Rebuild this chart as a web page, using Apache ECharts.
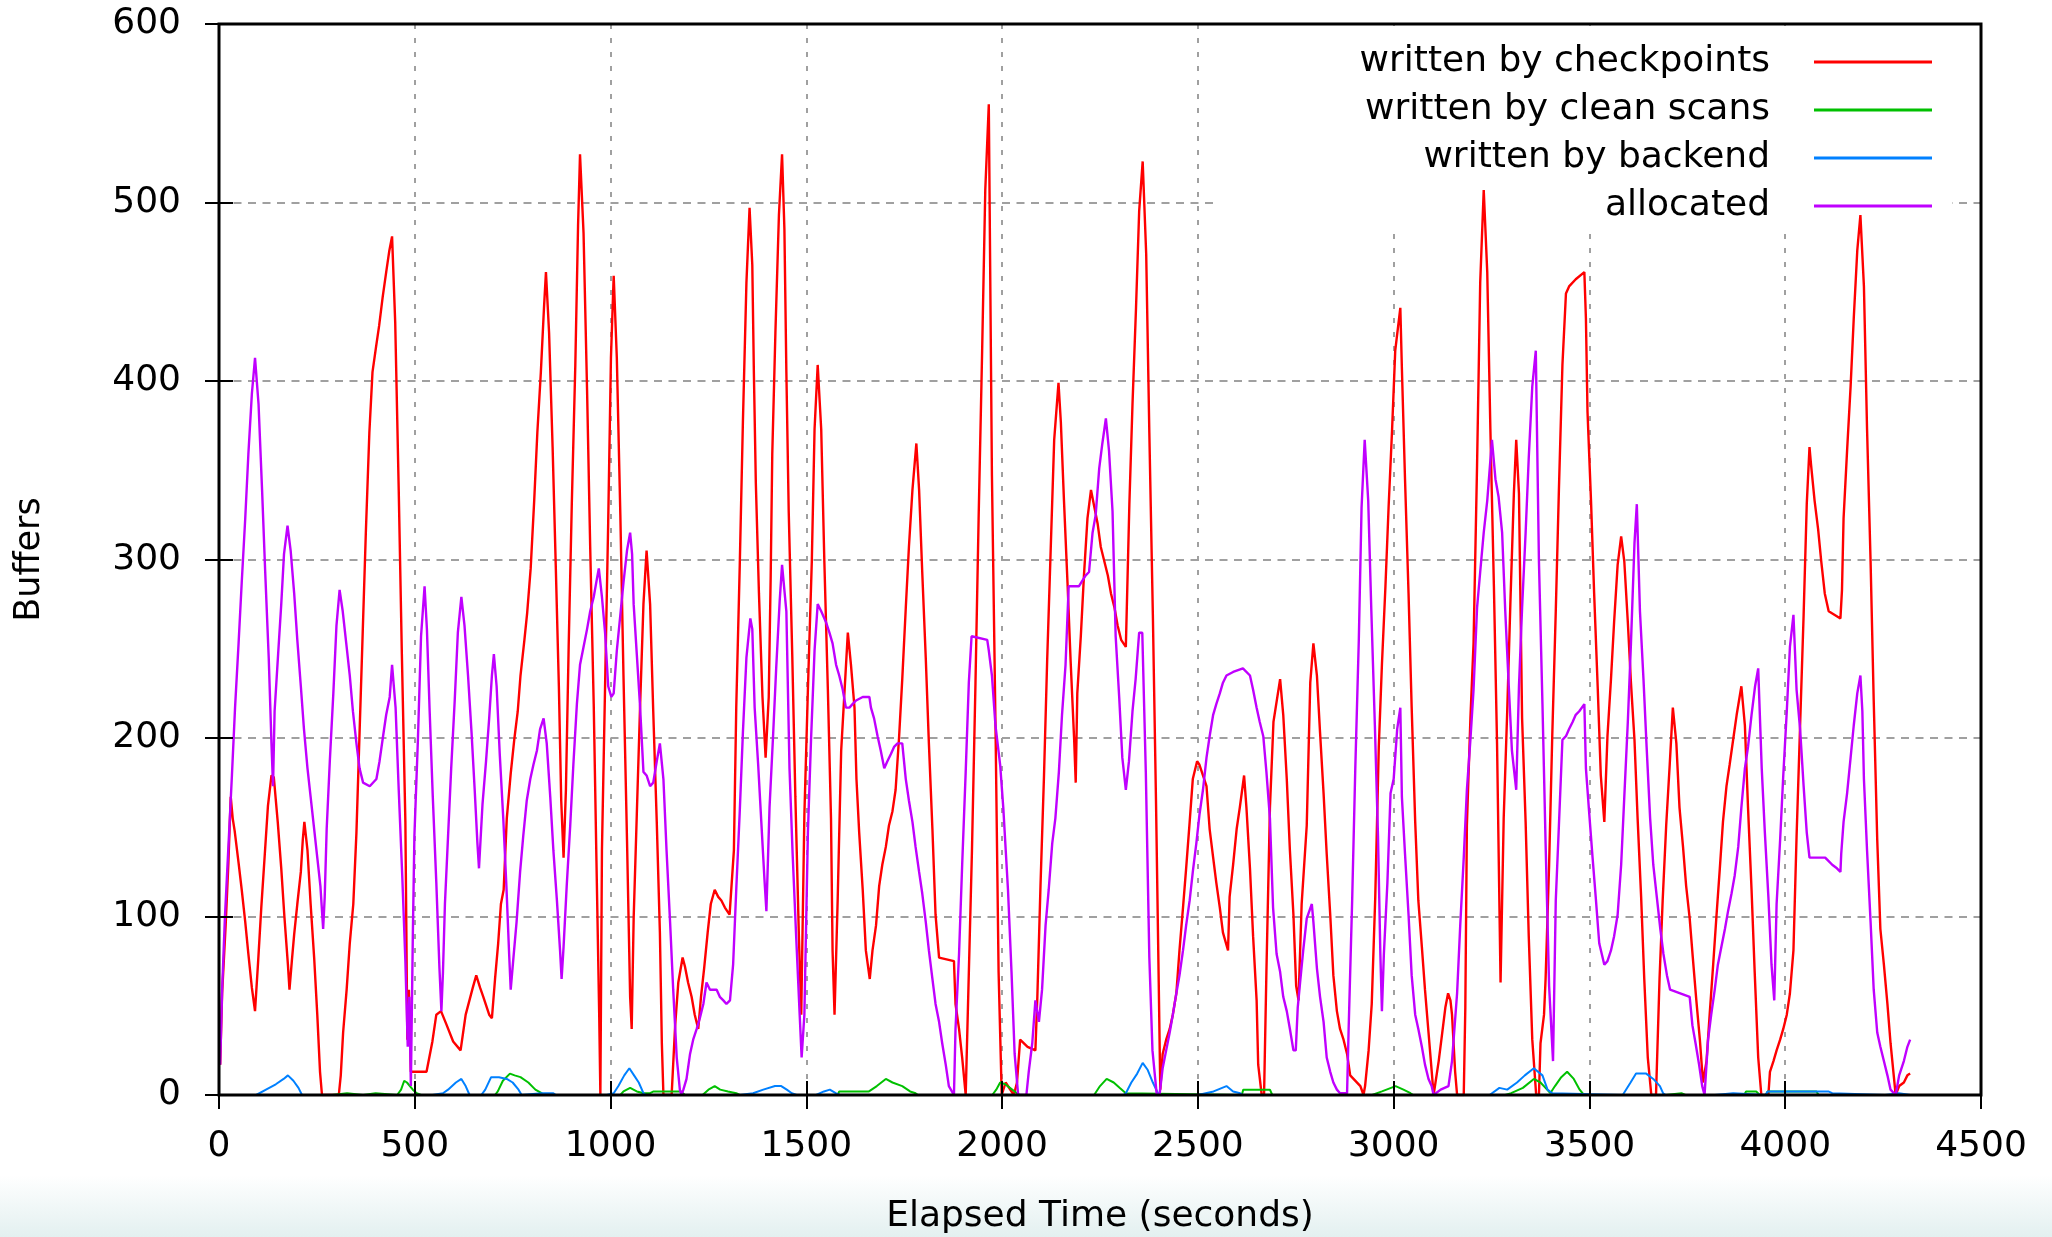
<!DOCTYPE html>
<html>
<head>
<meta charset="utf-8">
<script src="https://cdn.jsdelivr.net/npm/echarts@6/dist/echarts.min.js"></script>
<style>html,body{margin:0;padding:0;background:#fff}#c{width:2052px;height:1237px}</style>
</head>
<body>
<div id="c"></div>
<script>
// ---- data: [elapsed seconds, buffers] ----
const seriesNames = ['written by checkpoints', 'written by clean scans', 'written by backend', 'allocated'];
const xTicks = [0, 500, 1000, 1500, 2000, 2500, 3000, 3500, 4000, 4500];
const yTicks = [0, 100, 200, 300, 400, 500, 600];

const checkpointPts = [[3,17],[8,57],[17,95],[24,130],[30,167],[35,155],[40,148],[50,130],[58,115],[67,97],[75,79],[84,60],[92,47],[100,75],[108,105],[117,135],[125,162],[134,179],[140,178],[150,153],[159,127],[167,100],[176,73],[180,59],[186,75],[192,90],[200,107],[209,125],[214,143],[218,153],[226,137],[234,107],[243,77],[251,45],[258,13],[263,0],[306,0],[311,11],[317,35],[326,59],[334,85],[343,107],[351,147],[359,203],[367,259],[375,315],[384,371],[392,405],[401,419],[409,431],[418,447],[427,461],[435,473],[442,481],[450,433],[459,339],[467,247],[476,153],[481,31],[485,59],[490,13],[530,13],[545,30],[555,45],[567,47],[580,40],[598,30],[617,25],[630,45],[648,60],[657,67],[667,60],[675,55],[690,45],[697,43],[705,65],[713,85],[720,107],[727,115],[735,155],[745,180],[754,199],[763,215],[770,235],[780,255],[787,270],[796,295],[805,333],[813,371],[822,405],[830,441],[835,461],[843,427],[852,363],[860,297],[868,229],[874,165],[880,133],[886,171],[893,251],[901,331],[910,409],[917,487],[922,527],[931,483],[940,395],[948,307],[957,219],[964,131],[971,45],[974,0],[978,137],[986,229],[994,321],[1001,413],[1008,459],[1016,413],[1025,325],[1033,235],[1042,143],[1050,55],[1054,37],[1059,99],[1067,157],[1075,215],[1084,275],[1092,305],[1101,275],[1109,215],[1118,153],[1126,91],[1131,29],[1135,0],[1156,0],[1159,13],[1165,39],[1173,63],[1184,77],[1190,72],[1198,63],[1207,55],[1215,45],[1224,37],[1231,55],[1239,71],[1248,91],[1256,107],[1266,115],[1275,111],[1283,109],[1292,105],[1304,101],[1315,137],[1321,217],[1330,297],[1338,377],[1347,455],[1355,497],[1362,465],[1366,405],[1371,343],[1379,281],[1388,223],[1396,189],[1404,223],[1409,291],[1413,359],[1421,427],[1430,493],[1438,527],[1444,485],[1449,405],[1455,327],[1464,247],[1472,167],[1481,89],[1487,45],[1495,157],[1504,227],[1514,299],[1521,373],[1529,409],[1538,373],[1546,299],[1555,227],[1563,155],[1567,81],[1572,45],[1580,109],[1589,193],[1606,259],[1614,241],[1623,217],[1628,177],[1635,147],[1644,115],[1652,81],[1662,65],[1669,81],[1678,95],[1686,117],[1694,129],[1703,139],[1711,151],[1720,159],[1728,171],[1737,201],[1745,233],[1754,273],[1762,307],[1771,339],[1781,365],[1788,339],[1796,293],[1805,245],[1813,197],[1822,149],[1830,101],[1839,77],[1877,75],[1881,51],[1890,37],[1898,21],[1907,0],[1912,0],[1923,137],[1932,231],[1940,323],[1949,417],[1957,507],[1966,555],[1974,347],[1983,209],[1991,69],[1999,0],[2009,7],[2030,0],[2038,7],[2046,31],[2065,27],[2085,25],[2090,55],[2098,117],[2107,179],[2115,243],[2124,305],[2133,367],[2144,399],[2150,377],[2158,333],[2167,287],[2175,243],[2184,199],[2188,175],[2192,225],[2201,257],[2209,291],[2218,323],[2227,339],[2235,330],[2244,320],[2252,307],[2261,299],[2270,291],[2278,281],[2287,273],[2295,263],[2304,255],[2316,251],[2325,331],[2333,387],[2342,441],[2350,495],[2359,523],[2368,471],[2376,371],[2385,269],[2393,165],[2400,63],[2404,3],[2410,23],[2419,31],[2428,37],[2436,45],[2445,57],[2453,81],[2462,105],[2470,127],[2479,153],[2487,177],[2498,187],[2504,185],[2513,179],[2522,173],[2530,149],[2539,133],[2547,119],[2556,105],[2564,91],[2577,81],[2581,111],[2590,129],[2599,149],[2607,161],[2618,179],[2624,161],[2633,127],[2641,89],[2650,53],[2654,17],[2663,0],[2669,0],[2675,69],[2684,161],[2693,209],[2710,233],[2718,213],[2727,177],[2735,137],[2744,101],[2751,61],[2757,53],[2765,107],[2778,151],[2787,231],[2795,253],[2804,235],[2812,203],[2821,169],[2829,135],[2838,101],[2846,67],[2855,47],[2863,37],[2872,31],[2881,23],[2889,11],[2915,5],[2923,0],[2927,5],[2936,25],[2944,51],[2953,111],[2962,195],[2970,241],[2979,285],[2987,329],[2996,373],[3004,417],[3017,441],[3021,407],[3029,345],[3038,281],[3046,217],[3055,153],[3063,109],[3072,83],[3080,59],[3089,35],[3098,11],[3102,0],[3115,19],[3123,33],[3132,49],[3139,57],[3145,53],[3149,45],[3157,13],[3162,0],[3179,0],[3183,49],[3187,151],[3196,211],[3204,253],[3213,353],[3221,455],[3230,507],[3239,461],[3247,373],[3256,285],[3264,197],[3273,63],[3281,155],[3290,215],[3298,275],[3307,337],[3313,367],[3320,337],[3328,211],[3337,153],[3345,89],[3354,31],[3364,0],[3371,0],[3375,29],[3384,45],[3388,65],[3397,129],[3405,201],[3414,271],[3422,339],[3431,409],[3440,449],[3448,453],[3465,457],[3487,461],[3491,435],[3495,383],[3504,333],[3512,281],[3521,229],[3529,179],[3538,153],[3546,201],[3555,233],[3563,265],[3572,297],[3581,313],[3589,299],[3598,265],[3606,231],[3615,199],[3623,155],[3632,111],[3640,65],[3649,21],[3658,0],[3670,0],[3679,65],[3687,109],[3696,151],[3705,185],[3713,217],[3722,197],[3730,161],[3739,139],[3747,117],[3756,99],[3764,77],[3773,53],[3782,31],[3790,7],[3799,19],[3807,45],[3816,73],[3824,99],[3833,127],[3841,153],[3850,173],[3858,185],[3867,199],[3876,213],[3888,229],[3897,207],[3905,161],[3914,115],[3922,69],[3931,21],[3939,0],[3957,0],[3961,13],[3970,19],[3978,25],[3987,31],[3995,37],[4004,45],[4012,57],[4021,81],[4029,145],[4038,207],[4047,269],[4055,331],[4062,363],[4066,353],[4075,333],[4084,317],[4092,299],[4101,281],[4111,271],[4141,267],[4145,283],[4149,323],[4158,361],[4167,397],[4175,435],[4184,473],[4192,493],[4201,453],[4209,373],[4218,299],[4226,221],[4235,143],[4243,93],[4252,73],[4261,51],[4269,29],[4278,9],[4282,0],[4291,5],[4303,7],[4312,11],[4319,12]];

const cleanScanPts = [[0,0],[289,0],[290,1],[327,1],[330,0],[368,0],[370,1],[400,1],[405,0],[455,0],[465,3],[473,8],[480,7],[495,3],[505,1],[516,0],[705,0],[712,2],[725,8],[743,12],[755,11],[770,10],[790,7],[808,3],[824,1],[830,0],[1025,0],[1033,2],[1050,4],[1067,2],[1085,1],[1101,1],[1110,2],[1180,2],[1190,0],[1235,0],[1250,3],[1266,5],[1280,3],[1300,2],[1321,1],[1330,0],[1580,0],[1584,2],[1660,2],[1680,5],[1703,9],[1720,7],[1745,5],[1765,2],[1779,1],[1785,0],[1975,0],[1985,3],[1995,7],[2008,6],[2020,4],[2038,1],[2045,0],[2235,0],[2250,5],[2267,9],[2285,7],[2300,4],[2316,1],[2320,0],[2612,0],[2616,3],[2684,3],[2690,0],[2945,0],[2970,2],[3005,5],[3025,3],[3043,1],[3050,0],[3285,0],[3300,1],[3330,4],[3358,9],[3375,7],[3392,3],[3400,1],[3412,5],[3428,10],[3443,13],[3460,9],[3475,3],[3486,0],[3695,0],[3700,1],[3735,1],[3745,0],[3895,0],[3900,2],[3926,2],[3935,0],[3950,0],[3955,2],[4080,2],[4085,0],[4320,0]];

const backendPts = [[0,0],[95,0],[100,1],[120,3],[145,6],[165,9],[176,11],[190,8],[203,4],[212,0],[545,0],[572,1],[585,3],[605,7],[619,9],[630,5],[640,0],[670,0],[680,3],[695,10],[715,10],[735,9],[750,7],[765,3],[773,0],[824,1],[854,1],[860,0],[990,0],[995,1],[1008,1],[1020,5],[1035,11],[1048,15],[1060,11],[1072,7],[1084,1],[1090,0],[1330,0],[1364,1],[1390,3],[1420,5],[1436,5],[1450,3],[1463,1],[1475,0],[1525,0],[1530,1],[1545,2],[1560,3],[1575,1],[1585,0],[2310,0],[2316,1],[2330,7],[2345,12],[2359,18],[2372,14],[2385,7],[2398,1],[2405,0],[2500,0],[2504,1],[2540,2],[2573,5],[2590,2],[2608,1],[2615,0],[3245,0],[3250,1],[3270,4],[3290,3],[3315,7],[3335,11],[3358,15],[3380,11],[3393,3],[3405,1],[3410,0],[3585,0],[3590,1],[3605,7],[3619,12],[3645,12],[3663,9],[3680,5],[3688,1],[3695,0],[3820,0],[3824,1],[3867,1],[3872,0],[3950,0],[3955,2],[4110,2],[4120,1],[4125,0],[4255,0],[4260,1],[4290,1],[4295,0],[4320,0]];

const allocatedPts = [[3,17],[8,59],[15,99],[24,139],[33,179],[41,217],[50,253],[58,287],[67,323],[75,359],[84,393],[92,413],[101,387],[110,339],[118,293],[127,245],[134,197],[138,173],[142,215],[151,247],[159,275],[166,303],[175,319],[183,305],[192,281],[200,255],[209,229],[217,205],[226,183],[234,167],[242,151],[251,133],[259,117],[266,93],[270,111],[275,149],[283,187],[292,225],[300,263],[308,283],[316,271],[325,253],[334,235],[342,215],[351,197],[359,183],[368,175],[385,173],[402,177],[410,187],[419,201],[427,213],[436,223],[442,241],[451,217],[459,171],[468,123],[476,75],[482,27],[486,55],[490,5],[495,89],[499,145],[508,199],[516,257],[525,285],[531,261],[538,215],[546,167],[555,119],[563,71],[568,47],[572,69],[577,107],[585,145],[593,183],[602,221],[610,259],[619,279],[627,263],[636,235],[645,203],[653,171],[660,141],[664,127],[673,163],[682,187],[690,211],[697,235],[702,247],[709,229],[717,191],[726,155],[734,117],[741,79],[745,59],[752,77],[760,97],[769,125],[777,145],[786,165],[795,177],[803,185],[812,193],[820,205],[829,211],[837,197],[846,167],[854,137],[863,109],[871,81],[875,65],[880,83],[888,117],[897,151],[905,185],[914,219],[922,241],[931,251],[940,261],[948,271],[957,279],[965,289],[970,295],[978,279],[986,259],[994,229],[1002,223],[1008,225],[1016,249],[1025,269],[1033,287],[1042,305],[1050,315],[1055,303],[1059,275],[1067,247],[1075,219],[1084,181],[1092,179],[1101,173],[1109,175],[1118,187],[1126,197],[1135,177],[1143,137],[1152,97],[1160,59],[1169,21],[1177,3],[1181,0],[1186,3],[1194,9],[1203,23],[1211,31],[1220,37],[1228,43],[1237,51],[1245,63],[1254,59],[1271,59],[1279,55],[1288,53],[1296,51],[1305,53],[1313,73],[1321,115],[1330,159],[1338,203],[1347,245],[1357,267],[1362,261],[1368,217],[1377,185],[1385,153],[1393,121],[1398,103],[1406,161],[1415,201],[1423,239],[1432,277],[1438,297],[1449,271],[1457,183],[1465,135],[1474,89],[1483,45],[1488,21],[1495,45],[1504,147],[1512,199],[1521,249],[1529,275],[1538,271],[1550,265],[1559,259],[1567,253],[1576,241],[1584,235],[1593,227],[1601,217],[1610,217],[1618,219],[1627,221],[1644,223],[1661,223],[1665,217],[1673,211],[1682,201],[1690,193],[1699,183],[1703,183],[1707,187],[1716,191],[1724,195],[1733,197],[1745,197],[1754,177],[1762,165],[1771,153],[1779,139],[1788,125],[1796,113],[1805,97],[1813,81],[1822,65],[1830,51],[1839,41],[1847,29],[1856,17],[1864,5],[1877,0],[1881,37],[1890,79],[1898,129],[1907,181],[1915,231],[1922,257],[1962,255],[1966,249],[1974,235],[1983,207],[1995,185],[2003,161],[2015,115],[2024,69],[2032,23],[2041,0],[2062,0],[2068,13],[2077,29],[2085,53],[2094,41],[2102,59],[2111,95],[2119,115],[2128,141],[2136,155],[2145,181],[2153,213],[2162,241],[2170,285],[2196,285],[2213,291],[2222,293],[2231,315],[2239,325],[2248,351],[2256,365],[2265,379],[2273,361],[2282,327],[2290,257],[2299,223],[2307,189],[2316,171],[2324,187],[2333,215],[2341,233],[2350,259],[2358,259],[2367,181],[2376,77],[2384,25],[2395,0],[2402,0],[2410,15],[2419,25],[2428,35],[2436,45],[2445,57],[2453,67],[2462,81],[2470,95],[2479,109],[2487,125],[2496,141],[2504,157],[2513,171],[2522,189],[2530,201],[2539,213],[2547,219],[2556,225],[2564,231],[2573,235],[2590,237],[2615,239],[2633,235],[2641,227],[2650,217],[2658,209],[2667,201],[2675,181],[2684,155],[2692,105],[2701,79],[2710,69],[2718,55],[2727,47],[2735,37],[2744,25],[2750,25],[2755,49],[2761,63],[2769,81],[2778,99],[2791,107],[2795,97],[2804,71],[2812,55],[2821,41],[2829,21],[2838,13],[2846,7],[2855,3],[2863,1],[2881,1],[2885,37],[2894,109],[2902,183],[2911,255],[2918,329],[2926,367],[2935,333],[2943,271],[2952,207],[2960,145],[2966,79],[2970,47],[2975,79],[2984,119],[2992,169],[3000,177],[3009,205],[3017,217],[3021,167],[3029,135],[3038,101],[3046,67],[3055,45],[3063,37],[3072,27],[3080,17],[3089,9],[3097,5],[3102,0],[3120,3],[3140,5],[3149,19],[3153,19],[3162,57],[3170,95],[3179,133],[3187,171],[3196,199],[3204,227],[3213,273],[3221,293],[3230,315],[3239,333],[3251,367],[3260,345],[3268,335],[3277,315],[3285,271],[3294,229],[3302,193],[3313,171],[3320,229],[3328,273],[3337,315],[3345,357],[3354,397],[3363,417],[3371,299],[3380,219],[3388,141],[3397,61],[3407,19],[3414,109],[3422,151],[3431,199],[3440,201],[3448,205],[3457,209],[3465,213],[3474,215],[3487,219],[3491,183],[3499,159],[3508,133],[3516,111],[3525,85],[3538,73],[3546,75],[3555,81],[3563,89],[3572,101],[3581,129],[3589,167],[3598,209],[3606,253],[3615,309],[3621,331],[3629,271],[3638,233],[3646,195],[3655,155],[3663,129],[3672,111],[3681,93],[3689,79],[3698,67],[3706,59],[3756,55],[3763,39],[3771,29],[3780,17],[3788,5],[3794,0],[3803,31],[3811,45],[3820,59],[3828,73],[3837,83],[3846,93],[3854,103],[3863,113],[3871,123],[3880,139],[3888,161],[3897,183],[3905,195],[3914,213],[3923,229],[3931,239],[3940,183],[3948,147],[3957,111],[3965,73],[3972,53],[3978,107],[3987,143],[3995,179],[4004,215],[4012,251],[4021,269],[4029,227],[4038,205],[4047,173],[4055,147],[4062,133],[4102,133],[4111,131],[4120,129],[4132,127],[4141,125],[4143,135],[4149,153],[4158,169],[4167,189],[4175,207],[4184,225],[4192,235],[4197,215],[4201,177],[4209,137],[4218,97],[4226,59],[4235,35],[4243,27],[4252,19],[4261,11],[4269,3],[4282,0],[4291,11],[4303,19],[4312,27],[4319,31]];

const seriesColors = ['#ff0000', '#00c000', '#0080ff', '#c000ff'];
const seriesWidths = [2.4, 2, 2, 2.4];
const seriesData = [checkpointPts, cleanScanPts, backendPts, allocatedPts];

// ---- chart ----
const FONT = 'DejaVu Sans';
const xMin = xTicks[0], xMax = xTicks[xTicks.length - 1], xStep = xTicks[1] - xTicks[0];
const yMin = yTicks[0], yMax = yTicks[yTicks.length - 1], yStep = yTicks[1] - yTicks[0];
const tickStyle = { show: true, inside: true, length: 14, lineStyle: { color: '#000', width: 2 } };

function tickAxis(pos, isX) {
  return {
    type: 'value', position: pos, min: isX ? xMin : yMin, max: isX ? xMax : yMax,
    interval: isX ? xStep : yStep, z: 3,
    axisLine: { show: false }, axisTick: tickStyle,
    axisLabel: { show: false }, splitLine: { show: false }
  };
}

const chart = echarts.init(document.getElementById('c'), null, { renderer: 'canvas' });
chart.setOption({
  backgroundColor: '#ffffff',
  animation: false,
  textStyle: { fontFamily: FONT },
  grid: {
    left: 219, right: 71, top: 24, bottom: 142,
    outerBoundsMode: 'none', containLabel: false,
    show: true, borderColor: '#000', borderWidth: 3,
    backgroundColor: 'rgba(0,0,0,0)', z: 3
  },
  legend: {
    data: seriesNames,
    orient: 'vertical', align: 'right',
    right: 115, top: 39,
    icon: 'rect', itemWidth: 118, itemHeight: 3, itemGap: 12,
    selectedMode: false,
    textStyle: { fontFamily: FONT, fontSize: 36, color: '#000', padding: [0, 39, 0, 0] }
  },
  xAxis: [
    {
      type: 'value', position: 'bottom', min: xMin, max: xMax, interval: xStep, z: 0,
      name: 'Elapsed Time (seconds)', nameLocation: 'middle', nameGap: 104,
      nameTextStyle: { fontFamily: FONT, fontSize: 36, color: '#000' },
      axisLine: { show: false }, axisTick: { show: false },
      axisLabel: { fontFamily: FONT, fontSize: 36, color: '#000', margin: 34, formatter: v => String(v) },
      splitLine: { show: true, lineStyle: { color: '#a0a0a0', width: 2, type: [5, 9] } }
    },
    tickAxis('bottom', true),
    tickAxis('top', true)
  ],
  yAxis: [
    {
      type: 'value', position: 'left', min: yMin, max: yMax, interval: yStep, z: 0,
      name: 'Buffers', nameLocation: 'middle', nameGap: 172, nameRotate: 90,
      nameTextStyle: { fontFamily: FONT, fontSize: 35, color: '#000' },
      axisLine: { show: false }, axisTick: { show: false },
      axisLabel: { fontFamily: FONT, fontSize: 36, color: '#000', margin: 38, formatter: v => String(v) },
      splitLine: { show: true, lineStyle: { color: '#a0a0a0', width: 2, type: [8, 6.5] } }
    },
    tickAxis('left', false),
    tickAxis('right', false)
  ],
  graphic: [
    // blank key area over the grid lines (data is still drawn above it)
    { type: 'rect', z: 1, silent: true, shape: { x: 1217, y: 26, width: 735, height: 203 }, style: { fill: '#ffffff' } },
    // faint tint along the bottom edge of the picture
    { type: 'rect', z: -1, silent: true, shape: { x: 0, y: 1175, width: 2052, height: 62 },
      style: { fill: new echarts.graphic.LinearGradient(0, 0, 0, 1, [{ offset: 0, color: '#ffffff' }, { offset: 1, color: '#e3f0f0' }]) } }
  ],
  series: seriesNames.map((n, i) => ({
    name: n, type: 'line', data: seriesData[i],
    xAxisIndex: 0, yAxisIndex: 0, z: 2,
    showSymbol: false, symbol: 'none', smooth: false,
    lineStyle: { color: seriesColors[i], width: seriesWidths[i] },
    itemStyle: { color: seriesColors[i] },
    emphasis: { disabled: true }
  }))
});
</script>
</body>
</html>
